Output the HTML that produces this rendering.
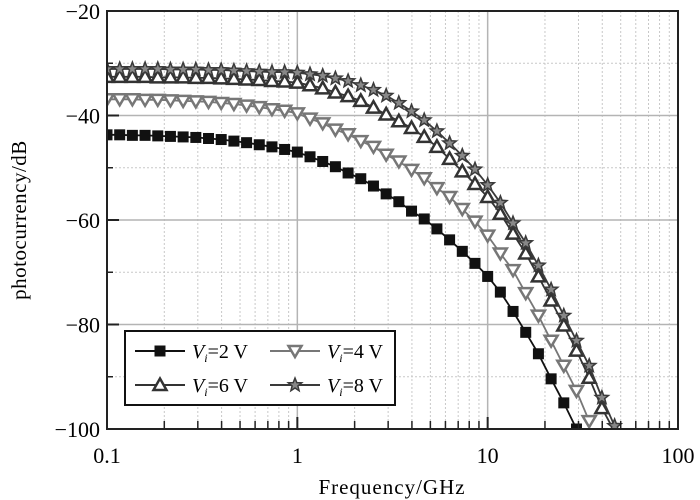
<!DOCTYPE html>
<html><head><meta charset="utf-8"><style>
body{margin:0;background:#fff}
svg{display:block;font-family:"Liberation Serif",serif}
</style></head><body>
<svg id="chart" width="700" height="500" viewBox="0 0 700 500" xmlns="http://www.w3.org/2000/svg">
<defs><clipPath id="pc"><rect x="107" y="11" width="571" height="418"/></clipPath></defs>
<g id="grid"></g>
<g id="series" clip-path="url(#pc)"></g>
<rect x="107" y="11" width="571" height="418" fill="none" stroke="#222" stroke-width="2"/>
<g id="axes"></g>
<text x="392" y="494" font-size="21" text-anchor="middle" letter-spacing="1">Frequency/GHz</text>
<text transform="translate(26,220) rotate(-90)" font-size="21" text-anchor="middle" letter-spacing="0.5">photocurrency/dB</text>
<g>
<rect x="125" y="331" width="270" height="74" fill="#fff" stroke="#111" stroke-width="2"/>
<g id="legend-items"></g>
</g>
</svg>
<script>
const xTicks=[0.1,1,10,100];
const xTickLabels=["0.1","1","10","100"];
const yTicks=[-20,-40,-60,-80,-100];
const yTickLabels=["\u221220","\u221240","\u221260","\u221280","\u2212100"];
const seriesNames=["2 V","4 V","6 V","8 V"];
const v2=[-43.7,-43.7,-43.8,-43.8,-43.9,-44.0,-44.1,-44.2,-44.4,-44.6,-44.9,-45.2,-45.6,-46.0,-46.5,-47.0,-47.9,-48.8,-49.8,-51.0,-52.1,-53.5,-55.0,-56.5,-58.3,-59.8,-61.7,-63.8,-66.0,-68.3,-70.8,-73.8,-77.5,-81.5,-85.6,-90.4,-95.0,-100.0];
const v4=[-36.9,-36.9,-36.9,-37.0,-37.0,-37.1,-37.2,-37.3,-37.4,-37.6,-37.8,-38.1,-38.4,-38.8,-39.1,-39.6,-40.6,-41.5,-42.7,-43.6,-44.9,-46.0,-47.5,-48.8,-50.4,-52.0,-53.9,-55.6,-57.9,-60.3,-63.0,-66.4,-69.6,-74.0,-78.3,-83.1,-87.9,-92.7,-98.5];
const v6=[-32.6,-32.6,-32.6,-32.6,-32.7,-32.7,-32.7,-32.8,-32.8,-32.9,-33.0,-33.1,-33.2,-33.4,-33.5,-33.7,-34.2,-34.8,-35.6,-36.3,-37.2,-38.5,-39.8,-41.1,-42.4,-44.1,-46.0,-48.3,-50.7,-53.1,-55.6,-58.8,-62.6,-66.4,-70.8,-75.4,-80.2,-85.0,-90.2,-96.0,-100.5];
const v8=[-31.1,-31.1,-31.1,-31.1,-31.1,-31.2,-31.2,-31.2,-31.3,-31.3,-31.4,-31.5,-31.6,-31.7,-31.7,-31.8,-32.1,-32.4,-32.9,-33.4,-34.2,-35.1,-36.2,-37.6,-39.2,-40.9,-43.0,-45.3,-47.7,-50.3,-53.3,-56.7,-60.6,-64.4,-68.7,-73.3,-78.3,-83.1,-87.9,-94.0,-99.4];
const pointsPerDecade=15, fStart=0.1;

const NS="http://www.w3.org/2000/svg";
const X0=107,X1=678,Y0=11,Y1=429;
const xs=f=>X0+(Math.log10(f)-Math.log10(0.1))/3*(X1-X0);
const ys=v=>Y0+(-20-v)/80*(Y1-Y0);
function mk(t,a,p){const e=document.createElementNS(NS,t);for(const k in a)e.setAttribute(k,a[k]);p.appendChild(e);return e;}
const grid=document.getElementById('grid'),axes=document.getElementById('axes'),ser=document.getElementById('series');
// minor grid
for(let d=0.1;d<100;d*=10){for(let m=2;m<=9;m++){const x=xs(d*m);
 const l=mk('line',{x1:x,x2:x,y1:Y0,y2:Y1,stroke:'#c8c8c8','stroke-width':1,'stroke-dasharray':'2,2'},grid);
 
 const t=mk('line',{x1:x,x2:x,y1:Y1,y2:Y1-8,stroke:'#222','stroke-width':1.5},axes);
 }}
for(let v=-30;v>-100;v-=20){const y=ys(v);
 const l=mk('line',{x1:X0,x2:X1,y1:y,y2:y,stroke:'#c8c8c8','stroke-width':1,'stroke-dasharray':'2,2'},grid);
 
 const t=mk('line',{x1:X0,x2:X0+6,y1:y,y2:y,stroke:'#222','stroke-width':1.5},axes);
 }
xTicks.forEach((f,i)=>{const x=xs(f);
 const l=mk('line',{x1:x,x2:x,y1:Y0,y2:Y1,stroke:'#b4b4b4','stroke-width':1.5},grid);
 
 const t=mk('line',{x1:x,x2:x,y1:Y1,y2:Y1-12,stroke:'#222','stroke-width':2},axes);
 
 const tx=mk('text',{x:x,y:463,'font-size':22,'text-anchor':'middle'},axes);tx.textContent=xTickLabels[i];
 });
yTicks.forEach((v,i)=>{const y=ys(v);
 const l=mk('line',{x1:X0,x2:X1,y1:y,y2:y,stroke:'#b4b4b4','stroke-width':1.5},grid);
 
 const t=mk('line',{x1:X0,x2:X0+12,y1:y,y2:y,stroke:'#222','stroke-width':2},axes);
 
 const tx=mk('text',{x:100,y:y+8,'font-size':22,'text-anchor':'end'},axes);tx.textContent=yTickLabels[i];
 });

function marker(type,x,y,col,p){
 let e;
 if(type==='sq'){e=mk('rect',{x:x-5.5,y:y-5.5,width:11,height:11,fill:col},p);}
 else if(type==='dn'){e=mk('polygon',{points:`${x-6.5},${y-5} ${x+6.5},${y-5} ${x},${y+6}`,fill:'#fff',stroke:col,'stroke-width':2.5},p);}
 else if(type==='up'){e=mk('polygon',{points:`${x-6.5},${y+5} ${x+6.5},${y+5} ${x},${y-6.5}`,fill:'#fff',stroke:col,'stroke-width':2.5},p);}
 else {let pts=[];for(let k=0;k<10;k++){const r=k%2?3:7,a=-Math.PI/2+k*Math.PI/5;pts.push((x+r*Math.cos(a)).toFixed(1)+','+(y+r*Math.sin(a)).toFixed(1));}
  e=mk('polygon',{points:pts.join(' '),fill:'#888',stroke:col,'stroke-width':1.5},p);}
 return e;}
const defs=[[v2,'sq','#111','series-2v'],[v4,'dn','#777','series-4v'],[v6,'up','#333','series-6v'],[v8,'st','#3a3a3a','series-8v']];
const fAt=k=>fStart*Math.pow(10,k/pointsPerDecade);
defs.forEach(([vals,type,col,name])=>{
 const g=mk('g',{},ser);
 const d=vals.map((v,k)=>(k?'L':'M')+xs(fAt(k)).toFixed(1)+','+ys(v).toFixed(1)).join('');
 const p=mk('path',{d:d,fill:'none',stroke:col,'stroke-width':1.8},g);
 
 vals.forEach((v,k)=>{const m=marker(type,xs(fAt(k)),ys(v),col,g);
  });
});
const li=document.getElementById('legend-items');
const pos=[[135,351],[270,351],[135,385],[270,385]];
defs.forEach(([vals,type,col,name],i)=>{const [x,y]=pos[i];
 const g=mk('g',{},li);
 mk('line',{x1:x,x2:x+50,y1:y,y2:y,stroke:col,'stroke-width':2},g);
 marker(type,x+25,y,col,g);
 const t=mk('text',{x:x+57,y:y+7,'font-size':20},g);
 t.innerHTML='<tspan font-style="italic">V</tspan><tspan font-style="italic" font-size="12" dy="4">i</tspan><tspan dy="-4">='+seriesNames[i]+'</tspan>';
});
</script>
</body></html>
